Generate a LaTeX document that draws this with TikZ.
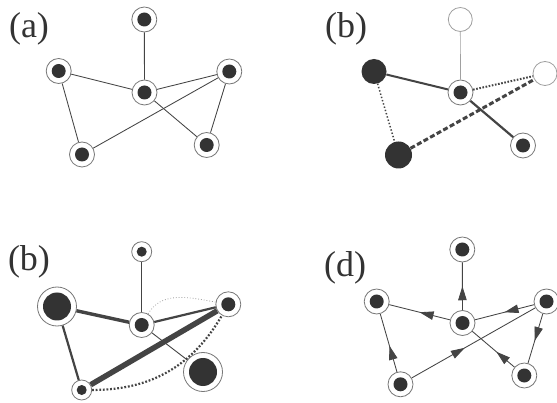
\documentclass[tikz,border=0pt]{standalone}
\usepackage{fontspec}
\newfontfamily\labfont{Liberation Serif}
\usetikzlibrary{arrows.meta,decorations.markings}
\definecolor{dk}{HTML}{333333}
\definecolor{ln}{HTML}{444444}
\definecolor{rg}{HTML}{777777}
\definecolor{lt}{HTML}{a0a0a0}
\begin{document}
\begin{tikzpicture}[x=1pt,y=-1pt,
  nd/.style={circle,draw=rg,line width=0.8pt,fill=white,inner sep=0pt,minimum size=25pt,
    path picture={\fill[dk] (path picture bounding box.center) circle (7pt);}},
  ndsmall/.style={circle,draw=rg,line width=0.8pt,fill=white,inner sep=0pt,minimum size=20pt,
    path picture={\fill[dk] (path picture bounding box.center) circle (5pt);}},
  ndbig/.style={circle,draw=rg,line width=0.8pt,fill=white,inner sep=0pt,minimum size=39pt,
    path picture={\fill[dk] (path picture bounding box.center) circle (14pt);}},
  empty/.style={circle,draw=lt,line width=0.8pt,fill=white,inner sep=0pt,minimum size=24pt},
  full/.style={circle,fill=dk,inner sep=0pt,minimum size=#1},
  full/.default=25pt,
  lnk/.style={ln,line width=0.85pt},
  lab/.style={text=dk,inner sep=0pt,font=\labfont\fontsize{36}{36}\selectfont},
  marr/.style={postaction={decorate,decoration={markings,
    mark=at position #1 with {\arrow{Triangle[length=14pt,width=8.5pt]}}}}}
]
\fill[white] (0,0) rectangle (557,403);
\useasboundingbox (0,0) rectangle (557,403);

% ---------- (a)
\node[lab] (la) at (29,29) {(a)};
\node[nd] (aT) at (144.3,19.5) {};
\node[nd] (aL) at (58.7,71) {};
\node[nd] (aC) at (144.5,92.5) {};
\node[nd] (aR) at (229.3,71.5) {};
\node[nd] (aBL) at (82,154.5) {};
\node[nd] (aBR) at (206.7,145) {};
\draw[lnk] (aT) -- (aC);
\draw[lnk] (aL) -- (aC);
\draw[lnk] (aC) -- (aR);
\draw[lnk] (aL) -- (aBL);
\draw[lnk] (aBL) -- (aR);
\draw[lnk] (aC) -- (aBR);
\draw[lnk] (aR) -- (aBR);

% ---------- (b) top right
\node[lab] (lb) at (346,28.5) {(b)};
\node[empty] (bT) at (460.3,19.5) {};
\node[full] (bL) at (374,71.5) {};
\node[nd] (bC) at (460.5,92.5) {};
\node[empty] (bR) at (545,73.5) {};
\node[full=27pt] (bBL) at (398.5,155) {};
\node[nd] (bBR) at (523,145.5) {};
\draw[lt,line width=0.7pt] (bT) -- (bC);
\draw[ln,line width=2pt] (bL) -- (bC);
\draw[ln,line width=2pt,dash pattern=on 1.6pt off 1.6pt] (bC) -- (bR);
\draw[ln,line width=1.5pt,dash pattern=on 1.4pt off 2pt] (bL) -- (bBL);
\draw[ln,line width=3pt,dash pattern=on 5pt off 2.5pt] (bBL) -- (bR);
\draw[ln,line width=2.2pt] (bC) -- (bBR);

% ---------- (b) bottom left
\node[lab] (lc) at (29,261.5) {(b)};
\node[ndsmall] (cT) at (141.7,251.7) {};
\node[ndbig] (cL) at (57,306.5) {};
\node[nd] (cC) at (141.7,325) {};
\node[nd] (cR) at (228.3,304.3) {};
\node[ndsmall] (cBL) at (81.7,390) {};
\node[ndbig] (cBR) at (203,372) {};
\draw[ln,line width=1pt] (cT) -- (cC);
\draw[ln,line width=3.4pt] (cL) -- (cC);
\draw[ln,line width=2.2pt] (cC) -- (cR);
\draw[ln,line width=2.2pt] (cL) -- (cBL);
\draw[ln,line width=5.5pt] (cBL) -- (cR);
\draw[ln,line width=0.9pt] (cC) -- (cBR);
\draw[ln,line width=2.2pt,dash pattern=on 1.8pt off 1.8pt] (cBL) to[bend right=30] (cR);
\draw[lt,line width=0.8pt,dotted] (cC) to[out=60,in=170] (cR);

% ---------- (d)
\node[lab] (ld) at (345,268) {(d)};
\node[nd] (dT) at (462.3,249.5) {};
\node[nd] (dL) at (376.7,301.5) {};
\node[nd] (dC) at (462.5,323) {};
\node[nd] (dR) at (546.5,301.5) {};
\node[nd] (dBL) at (400.5,384.3) {};
\node[nd] (dBR) at (524.3,375.5) {};
\draw[lnk,marr=0.5] (dC) -- (dT);
\draw[lnk,marr=0.5] (dC) -- (dL);
\draw[lnk,marr=0.5] (dR) -- (dC);
\draw[lnk,marr=0.55] (dR) -- (dBR);
\draw[lnk,marr=0.45] (dBL) -- (dL);
\draw[lnk,marr=0.43] (dBL) -- (dR);
\draw[lnk,marr=0.43] (dBR) -- (dC);
\end{tikzpicture}
\end{document}
